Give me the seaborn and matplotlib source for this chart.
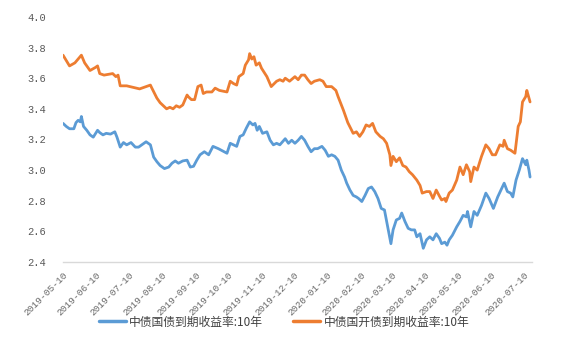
import pandas as pd
import matplotlib
matplotlib.use("Agg")
import matplotlib.pyplot as plt
import matplotlib.dates as mdates
from matplotlib.font_manager import FontProperties
import seaborn as sns

# 中债国开债到期收益率:10年
cdb_dates = [
    "2019-05-10", "2019-05-16", "2019-05-21", "2019-05-27", "2019-05-30", "2019-06-04",
    "2019-06-09", "2019-06-11", "2019-06-13", "2019-06-17", "2019-06-25", "2019-06-28",
    "2019-06-30", "2019-07-02", "2019-07-08", "2019-07-14", "2019-07-20", "2019-07-26",
    "2019-07-30", "2019-07-31", "2019-08-05", "2019-08-08", "2019-08-11", "2019-08-14",
    "2019-08-17", "2019-08-20", "2019-08-23", "2019-08-26", "2019-08-29", "2019-09-02",
    "2019-09-03", "2019-09-06", "2019-09-09", "2019-09-12", "2019-09-15", "2019-09-17",
    "2019-09-20", "2019-09-25", "2019-09-28", "2019-10-02", "2019-10-09", "2019-10-12",
    "2019-10-15", "2019-10-18", "2019-10-20", "2019-10-24", "2019-10-26", "2019-10-29",
    "2019-10-30", "2019-11-01", "2019-11-03", "2019-11-05", "2019-11-08", "2019-11-10",
    "2019-11-15", "2019-11-19", "2019-11-24", "2019-11-27", "2019-11-30", "2019-12-02",
    "2019-12-06", "2019-12-11", "2019-12-14", "2019-12-17", "2019-12-20", "2019-12-23",
    "2019-12-26", "2019-12-29", "2020-01-03", "2020-01-06", "2020-01-09", "2020-01-14",
    "2020-01-18", "2020-01-20", "2020-01-25", "2020-01-29", "2020-02-03", "2020-02-06",
    "2020-02-09", "2020-02-12", "2020-02-15", "2020-02-18", "2020-02-21", "2020-02-24",
    "2020-02-28", "2020-03-02", "2020-03-05", "2020-03-08", "2020-03-09", "2020-03-11",
    "2020-03-14", "2020-03-17", "2020-03-20", "2020-03-23", "2020-03-26", "2020-03-29",
    "2020-04-02", "2020-04-05", "2020-04-07", "2020-04-11", "2020-04-14", "2020-04-17",
    "2020-04-20", "2020-04-23", "2020-04-25", "2020-04-28", "2020-04-29", "2020-05-02",
    "2020-05-05", "2020-05-09", "2020-05-12", "2020-05-15", "2020-05-18", "2020-05-21",
    "2020-05-22", "2020-05-25", "2020-05-28", "2020-06-01", "2020-06-05", "2020-06-08",
    "2020-06-11", "2020-06-14", "2020-06-18", "2020-06-21", "2020-06-22", "2020-06-25",
    "2020-06-28", "2020-07-02", "2020-07-05", "2020-07-07", "2020-07-09", "2020-07-12",
    "2020-07-13", "2020-07-15", "2020-07-16",
]
cdb_yield = [
    3.75, 3.68, 3.70, 3.75, 3.70, 3.65,
    3.67, 3.68, 3.63, 3.62, 3.63, 3.61,
    3.62, 3.55, 3.55, 3.54, 3.53, 3.545,
    3.555, 3.54, 3.47, 3.44, 3.42, 3.40,
    3.41, 3.40, 3.42, 3.41, 3.425, 3.49,
    3.48, 3.46, 3.46, 3.545, 3.555, 3.50,
    3.51, 3.51, 3.535, 3.52, 3.51, 3.58,
    3.565, 3.555, 3.61, 3.63, 3.685, 3.72,
    3.76, 3.725, 3.74, 3.685, 3.70, 3.665,
    3.61, 3.545, 3.58, 3.59, 3.58, 3.60,
    3.58, 3.61, 3.59, 3.62, 3.62, 3.59,
    3.565, 3.58, 3.59, 3.58, 3.545, 3.545,
    3.52, 3.48, 3.39, 3.31, 3.24, 3.25,
    3.22, 3.25, 3.295, 3.285, 3.305, 3.25,
    3.22, 3.205, 3.175, 3.10, 3.03, 3.09,
    3.055, 3.08, 3.03, 3.02, 2.99, 2.97,
    2.935, 2.90, 2.85, 2.86, 2.86, 2.815,
    2.87, 2.83, 2.805, 2.815, 2.795, 2.85,
    2.87, 2.935, 3.02, 2.97, 3.035, 2.99,
    2.925, 3.02, 3.00, 3.09, 3.165, 3.14,
    3.10, 3.10, 3.165, 3.155, 3.195, 3.14,
    3.13, 3.11, 3.285, 3.315, 3.445, 3.48,
    3.52, 3.47, 3.445,
]

# 中债国债到期收益率:10年
cgb_dates = [
    "2019-05-10", "2019-05-13", "2019-05-16", "2019-05-20", "2019-05-22", "2019-05-24",
    "2019-05-26", "2019-05-27", "2019-05-29", "2019-06-01", "2019-06-04", "2019-06-07",
    "2019-06-11", "2019-06-13", "2019-06-16", "2019-06-19", "2019-06-23", "2019-06-27",
    "2019-06-29", "2019-07-02", "2019-07-05", "2019-07-08", "2019-07-12", "2019-07-16",
    "2019-07-19", "2019-07-22", "2019-07-26", "2019-07-30", "2019-08-02", "2019-08-05",
    "2019-08-08", "2019-08-12", "2019-08-16", "2019-08-19", "2019-08-22", "2019-08-25",
    "2019-08-29", "2019-09-02", "2019-09-05", "2019-09-08", "2019-09-11", "2019-09-14",
    "2019-09-18", "2019-09-22", "2019-09-26", "2019-10-01", "2019-10-05", "2019-10-09",
    "2019-10-12", "2019-10-15", "2019-10-18", "2019-10-21", "2019-10-24", "2019-10-27",
    "2019-10-30", "2019-11-02", "2019-11-04", "2019-11-06", "2019-11-08", "2019-11-11",
    "2019-11-15", "2019-11-18", "2019-11-21", "2019-11-24", "2019-11-27", "2019-12-02",
    "2019-12-05", "2019-12-08", "2019-12-11", "2019-12-14", "2019-12-17", "2019-12-20",
    "2019-12-23", "2019-12-26", "2019-12-29", "2020-01-01", "2020-01-05", "2020-01-08",
    "2020-01-11", "2020-01-14", "2020-01-17", "2020-01-20", "2020-01-23", "2020-01-26",
    "2020-01-28", "2020-01-31", "2020-02-03", "2020-02-06", "2020-02-08", "2020-02-11",
    "2020-02-14", "2020-02-17", "2020-02-20", "2020-02-23", "2020-02-26", "2020-02-29",
    "2020-03-03", "2020-03-06", "2020-03-09", "2020-03-11", "2020-03-14", "2020-03-17",
    "2020-03-19", "2020-03-22", "2020-03-25", "2020-03-28", "2020-03-31", "2020-04-02",
    "2020-04-05", "2020-04-08", "2020-04-11", "2020-04-14", "2020-04-17", "2020-04-20",
    "2020-04-23", "2020-04-25", "2020-04-28", "2020-04-30", "2020-05-02", "2020-05-05",
    "2020-05-09", "2020-05-12", "2020-05-15", "2020-05-18", "2020-05-19", "2020-05-22",
    "2020-05-25", "2020-05-28", "2020-06-01", "2020-06-05", "2020-06-08", "2020-06-12",
    "2020-06-16", "2020-06-19", "2020-06-22", "2020-06-25", "2020-06-28", "2020-06-30",
    "2020-07-03", "2020-07-06", "2020-07-09", "2020-07-12", "2020-07-13", "2020-07-15",
    "2020-07-16",
]
cgb_yield = [
    3.305, 3.285, 3.27, 3.27, 3.31, 3.325,
    3.315, 3.35, 3.285, 3.26, 3.23, 3.215,
    3.26, 3.245, 3.23, 3.24, 3.235, 3.25,
    3.215, 3.15, 3.18, 3.165, 3.18, 3.15,
    3.15, 3.165, 3.185, 3.165, 3.085, 3.055,
    3.03, 3.01, 3.02, 3.045, 3.06, 3.045,
    3.06, 3.065, 3.02, 3.025, 3.065, 3.10,
    3.12, 3.10, 3.155, 3.14, 3.125, 3.11,
    3.175, 3.165, 3.155, 3.22, 3.23, 3.275,
    3.315, 3.295, 3.305, 3.26, 3.285, 3.24,
    3.25, 3.195, 3.165, 3.175, 3.165, 3.205,
    3.175, 3.195, 3.175, 3.195, 3.22, 3.195,
    3.155, 3.12, 3.14, 3.14, 3.155, 3.13,
    3.09, 3.10, 3.09, 3.065, 3.00, 2.955,
    2.915, 2.87, 2.835, 2.825, 2.815, 2.795,
    2.835, 2.88, 2.89, 2.86, 2.815, 2.75,
    2.74, 2.63, 2.52, 2.61, 2.675, 2.685,
    2.72, 2.665, 2.62, 2.61, 2.61, 2.565,
    2.585, 2.49, 2.545, 2.565, 2.545, 2.585,
    2.555, 2.52, 2.53, 2.51, 2.545, 2.575,
    2.63, 2.665, 2.705, 2.695, 2.73, 2.63,
    2.73, 2.705, 2.77, 2.85, 2.815, 2.75,
    2.825, 2.87, 2.915, 2.86, 2.85, 2.825,
    2.935, 3.00, 3.075, 3.035, 3.065, 3.00,
    2.955,
]

series_names = ["中债国债到期收益率:10年", "中债国开债到期收益率:10年"]
series_colors = ["#5B9BD5", "#ED7D31"]
y_ticks = [2.4, 2.6, 2.8, 3.0, 3.2, 3.4, 3.6, 3.8, 4.0]

df = pd.concat([
    pd.DataFrame({"date": pd.to_datetime(cgb_dates), "yield": cgb_yield, "series": series_names[0]}),
    pd.DataFrame({"date": pd.to_datetime(cdb_dates), "yield": cdb_yield, "series": series_names[1]}),
])

sns.set_style("white")
# 刻度用等宽字体（接近 Excel 里的宋体数字），图例单独用中文字体
plt.rcParams["font.family"] = ["Liberation Mono", "DejaVu Sans"]

fig = plt.figure(figsize=(5.68, 3.59), dpi=100)
ax = fig.add_axes([0.111, 0.27, 0.826, 0.683])

sns.lineplot(
    data=df, x="date", y="yield", hue="series",
    hue_order=series_names, palette=series_colors,
    linewidth=2.0, legend=False, ax=ax,
)

ax.set_xlim(pd.Timestamp("2019-05-10"), pd.Timestamp("2020-07-18"))
ax.set_ylim(2.4, 4.0)
ax.set_yticks(y_ticks)
ax.set_yticklabels([f"{v:.1f}" for v in y_ticks])
ax.xaxis.set_major_locator(mdates.MonthLocator(bymonthday=10))
ax.xaxis.set_major_formatter(mdates.DateFormatter("%Y-%m-%d"))
ax.set_xlabel("")
ax.set_ylabel("")

for side in ["top", "right", "left"]:
    ax.spines[side].set_visible(False)
ax.spines["bottom"].set_color("#d9d9d9")
ax.spines["bottom"].set_linewidth(1.0)

ax.tick_params(axis="y", length=0, pad=12, labelsize=7.5, labelcolor="#595959")
ax.tick_params(axis="x", length=4, width=0.8, color="#d9d9d9", pad=2,
               labelsize=6.8, labelcolor="#666666", labelrotation=45)
for lab in ax.get_xticklabels():
    lab.set_ha("right")
    lab.set_rotation_mode("anchor")

handles = [plt.Line2D([], [], color=c, linewidth=2.5) for c in series_colors]
fig.legend(
    handles, series_names, loc="center", bbox_to_anchor=(0.5, 0.103),
    ncol=2, frameon=False, prop=FontProperties(family="Noto Sans CJK SC", size=8.5),
    handlelength=2.3, handletextpad=0.3, columnspacing=2.5, labelcolor="#404040",
)

fig.savefig("out.png", dpi=100, facecolor="white")
